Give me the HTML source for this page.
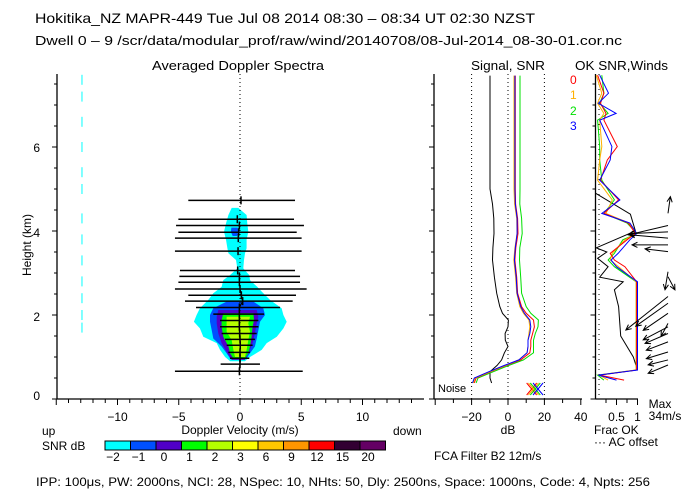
<!DOCTYPE html>
<html><head><meta charset="utf-8"><style>
html,body{margin:0;padding:0;background:#fff;}
svg{display:block;font-family:"Liberation Sans",sans-serif;}
text{fill:#000;}
</style></head><body>
<svg id="chart" width="700" height="500" viewBox="0 0 700 500" xmlns="http://www.w3.org/2000/svg">
<rect width="700" height="500" fill="#fff"/>
<text x="35" y="23" font-size="14" textLength="500" lengthAdjust="spacingAndGlyphs">Hokitika_NZ  MAPR-449  Tue Jul 08 2014 08:30 – 08:34 UT 02:30 NZST</text>
<text x="35" y="45" font-size="13" textLength="587" lengthAdjust="spacingAndGlyphs">Dwell  0 –  9   /scr/data/modular_prof/raw/wind/20140708/08-Jul-2014_08-30-01.cor.nc</text>
<text x="152" y="70" font-size="13" textLength="172" lengthAdjust="spacingAndGlyphs">Averaged Doppler Spectra</text>
<text x="471" y="70" font-size="13" textLength="74" lengthAdjust="spacingAndGlyphs">Signal, SNR</text>
<text x="575" y="70" font-size="13" textLength="93" lengthAdjust="spacingAndGlyphs">OK SNR,Winds</text>

<text x="40" y="400" font-size="12" text-anchor="end">0</text>
<text x="40" y="321" font-size="12" text-anchor="end">2</text>
<text x="40" y="237" font-size="12" text-anchor="end">4</text>
<text x="40" y="152" font-size="12" text-anchor="end">6</text>
<text transform="translate(31,245) rotate(-90)" font-size="12" text-anchor="middle">Height (km)</text>

<text x="240" y="434" font-size="12" text-anchor="middle">Doppler Velocity (m/s)</text>
<text x="42" y="435" font-size="12">up</text>
<text x="393" y="435" font-size="12">down</text>
<text x="508" y="434" font-size="12" text-anchor="middle">dB</text>
<text x="594" y="434" font-size="12">Frac OK</text>
<text x="594" y="446" font-size="12">··· AC offset</text>
<text x="660" y="408" font-size="12" text-anchor="middle">Max</text>
<text x="665" y="420" font-size="12" text-anchor="middle">34m/s</text>
<text x="438" y="392" font-size="11">Noise</text>
<text x="434" y="460" font-size="12">FCA Filter B2 12m/s</text>
<text x="42" y="450" font-size="12">SNR dB</text>
<text x="36" y="486" font-size="12" textLength="614" lengthAdjust="spacingAndGlyphs">IPP: 100μs,  PW: 2000ns,  NCI:  28,  NSpec: 10, NHts: 50,  Dly: 2500ns,  Space: 1000ns,  Code: 4,  Npts: 256</text>
<text x="570" y="84" font-size="12" style="fill:#ff0000">0</text>
<text x="570" y="99" font-size="12" style="fill:#ffb000">1</text>
<text x="570" y="115" font-size="12" style="fill:#00e000">2</text>
<text x="570" y="130" font-size="12" style="fill:#0000ff">3</text>
<g id="dyn"></g>
</svg>
<script>
// ---------- data ----------
const cyanH=[4.55,4.38,4.18,3.98,3.79,3.59,3.47,3.31,3.11,2.95,2.83,2.67,2.52,2.36,2.16,2.0,1.84,1.68,1.48,1.33,1.17,1.0,0.9];
const cyanLo=[-0.68,-0.95,-1.14,-1.31,-1.14,-1.03,-0.95,-0.33,-0.22,-0.82,-1.36,-1.5,-2.18,-2.59,-3.27,-3.54,-3.76,-3.27,-3.0,-1.9,-1.63,-1.22,-0.8];
const cyanHi=[-0.14,0.54,0.6,0.68,0.54,0.54,0.41,0.33,0.27,0.76,0.82,1.41,1.9,2.45,3.4,3.54,3.81,3.54,3.0,2.18,1.77,0.82,0.4];
const blueTopH=[4.08,3.98,3.88];
const blueTopLo=[-0.7,-0.75,-0.6];
const blueTopHi=[-0.2,-0.1,-0.25];
const blueH=[2.32,2.16,2.0,1.84,1.64,1.44,1.25,1.09,0.97];
const blueLo=[-1.09,-2.18,-2.45,-2.45,-2.31,-2.18,-1.5,-1.09,-0.82];
const blueHi=[1.09,1.9,2.04,1.63,1.5,1.36,1.22,0.82,0.54];
const purpH=[2.12,1.96,1.8,1.56,1.33,1.09,0.93];
const purpLo=[-1.77,-1.9,-1.9,-1.77,-1.5,-1.03,-0.68];
const purpHi=[1.36,1.5,1.36,1.22,1.03,0.68,0.41];
const greenH=[2.04,1.88,1.72,1.48,1.25,1.09,0.97];
const greenLo=[-1.36,-1.5,-1.5,-1.36,-0.95,-0.82,-0.54];
const greenHi=[1.09,1.14,1.03,0.95,0.82,0.68,0.41];
const ygH=[1.96,1.8,1.6,1.4,1.17,1.0];
const ygLo=[-1.09,-1.09,-1.09,-0.68,-0.54,-0.41];
const ygHi=[0.82,0.68,0.82,0.68,0.54,0.41];
const strayH=[7.6,7.2,6.6,6.0,5.4,5.0,4.3,3.8,3.3,2.8,2.4,2.0,1.7];
const strayV=[-12.9,-12.9,-12.9,-12.9,-12.9,-12.9,-12.9,-12.9,-12.9,-12.9,-12.9,-12.9,-12.9];
const widthH=[4.73,4.28,4.13,3.97,3.83,3.52,3.06,2.92,2.78,2.62,2.47,2.33,2.18,2.02,1.87,1.72,1.56,1.42,1.28,1.11,0.97,0.83,0.66];
const widthLo=[-4.22,-5.03,-5.22,-5.03,-5.31,-5.31,-4.9,-4.95,-5.03,-5.31,-4.22,-4.49,-3.59,-2.18,-1.63,-1.63,-1.5,-1.22,-1.09,-0.95,-0.82,-1.58,-5.31];
const widthHi=[4.49,4.41,5.22,4.63,5.03,5.03,4.49,4.9,4.9,5.44,4.57,4.3,3.27,1.96,1.5,1.5,1.36,1.22,1.03,0.82,0.76,1.63,5.12];
const meanV=[0.08,-0.22,-0.05,-0.11,-0.14,-0.16,-0.19,-0.05,-0.05,0.0,0.11,0.22,-0.05,-0.05,-0.05,-0.05,-0.03,0.0,0.02,0.0,0.0,0.0,-0.05];
const snrH=[0.38,0.5,0.65,0.8,0.93,1.1,1.25,1.4,1.56,1.72,1.88,2.04,2.2,2.52,2.9,3.31,3.6,3.94,4.3,4.64,5.0,6.0,7.0,7.7];
const snr0=[-18.5,-17.5,-9.5,-1,7,12,12.5,12.5,13.5,14.5,14,10,7.5,5.3,4.8,3.8,4.3,5.5,5.3,4.2,4.0,4.0,4.0,4.0];
const snr1=[-19,-18,-10,-1.5,6,10.5,11,11,11.5,12,11.5,8.5,6.5,4.8,4.2,3.2,3.8,5,4.8,3.6,3.3,3.3,3.3,3.3];
const snr2=[-17.5,-16.5,-8,0.5,8.5,14,14,14,15,16.5,16.7,12.5,10,7.5,7,6.3,6.5,7.8,7.5,6.5,6.6,6.6,6.6,6.6];
const snr3=[-19.5,-18.5,-10.5,-2,6,10.5,11,11,12,12.5,12,9,7,5,4.5,3.5,4,5,5,4,3.8,3.8,3.8,3.8];
const sigBlack=[-9,-9.9,-9.9,-6,-3.5,-2,0,-1.5,-1.6,0,0.2,-3,-4.5,-6.2,-7.5,-8.5,-8.3,-7.7,-7.8,-8.5,-9.9,-9.9,-9.9,-9.9];
const noiseDb=[13,14,15,16.5];
const okH=[7.71,7.28,7.04,6.8,6.64,6.01,5.69,5.21,4.74,4.42,4.19,3.94,3.79,3.47,3.31,3.15,2.79,0.69,0.57,0.45];
const ok0=[0.05,0.2,0.12,0.25,0.2,0.52,0.28,0.12,0.55,0.2,0.78,0.95,0.75,0.35,0.45,0.7,0.98,0.98,0.1,0.68];
const ok1=[0.02,0.15,0.05,0.2,0.1,0.15,0.1,0.05,0.4,0.25,0.8,0.97,0.7,0.4,0.35,0.55,0.97,0.97,0.08,0.3];
const ok2=[0.15,0.2,0.1,0.3,0.05,0.1,0.1,0.15,0.45,0.2,0.75,0.99,0.65,0.45,0.3,0.45,0.97,0.97,0.05,0.2];
const ok3=[0.1,0.31,0.07,0.49,0.1,0.39,0.35,0.1,0.58,0.15,0.82,0.98,0.82,0.54,0.37,0.5,1,1,0.07,0.5];
const okBlackH=[4.9,4.4,4.0,3.6,3.5,3.35,3.15,2.9,2.79,2.6,2.2,1.5,1.0,0.69];
const okBlack=[0,0.83,0.95,0.02,0.27,0.05,0.3,0.1,0.66,0.45,0.55,0.6,0.9,1.0];
const windH=[4.42,4.13,3.98,3.83,3.67,3.51,3.03,2.91,2.44,2.28,2.04,1.8,1.72,1.56,1.36,1.12,0.93,0.81];
const windU=[1.9,-32,-31,-31,-29,-18.5,-2.4,5.6,-34,-26,-20,-5.6,-20,-18.5,-17.5,-17.5,-16,-16];
const windV=[13.5,-7.5,-1.4,2.7,0,2.2,-14.5,-10.5,-27,-18.5,-13.7,-10.5,-10.5,-8,-6.7,-5.4,-4,-6.7];
const cbLabels=["-2","-1","0","1","2","3","6","9","12","15","20"];
const cbColors=["#00ffff","#0050ff","#5000c8","#00ff00","#b4ff00","#ffff00","#ffc800","#ff9600","#ff0000","#320032","#640064"];
const velTicks=[-10,-5,0,5,10];
const dbTicks=[-20,0,20,40];
const fracTicks=["0.5","1"];

// ---------- axes ----------
const Y=h=>399-h*42;
const XV=v=>240+v*12.25;
const XD=d=>508+d*1.82;
const XF=f=>595.5+f*42;
const XW=u=>668+u*1.24;
const YW=(h,v)=>Y(h)-v*1.24;
const NS='http://www.w3.org/2000/svg';
const dyn=document.getElementById('dyn');
function mk(tag,attrs,parent){const e=document.createElementNS(NS,tag);for(const k in attrs)e.setAttribute(k,attrs[k]);(parent||dyn).appendChild(e);return e;}

function blob(H,Lo,Hi,col,name){
  const pts=[];
  for(let i=0;i<H.length;i++)pts.push(XV(Lo[i]).toFixed(1)+','+Y(H[i]).toFixed(1));
  for(let i=H.length-1;i>=0;i--)pts.push(XV(Hi[i]).toFixed(1)+','+Y(H[i]).toFixed(1));
  const p=mk('polygon',{points:pts.join(' '),fill:col});
  
  
}
blob(cyanH,cyanLo,cyanHi,'#00ffff','snr-contour-cyan');
blob(blueTopH,blueTopLo,blueTopHi,'#0050ff','snr-contour-blue-upper');
blob(blueH,blueLo,blueHi,'#0050ff','snr-contour-blue');
blob(purpH,purpLo,purpHi,'#5000c8','snr-contour-purple');
blob(greenH,greenLo,greenHi,'#00ff00','snr-contour-green');
blob(ygH,ygLo,ygHi,'#b4ff00','snr-contour-yellowgreen');
strayH.forEach((h,i)=>{
  const l=mk('line',{x1:XV(strayV[i]),x2:XV(strayV[i]),y1:Y(h)-5,y2:Y(h)+5,stroke:'#00ffff','stroke-width':1});
  
  
});
const z=mk('line',{x1:240,x2:240,y1:74,y2:399,stroke:'#000','stroke-dasharray':'1,3'});


widthH.forEach((h,i)=>{
  const l=mk('line',{x1:XV(widthLo[i]),x2:XV(widthHi[i]),y1:Y(h),y2:Y(h),stroke:'#000','stroke-width':1.5});
  
  
  const t=mk('line',{x1:XV(meanV[i]),x2:XV(meanV[i]),y1:Y(h)-4,y2:Y(h)+4,stroke:'#000','stroke-width':1.5});
  
  
});
{
  const pts=[];widthH.forEach((h,i)=>{if(h<2.7)pts.push(XV(meanV[i])+','+Y(h));});
  const p=mk('polyline',{points:pts.join(' '),fill:'none',stroke:'#000','stroke-width':1.2});
  
  
}
function axis(x1,y1,x2,y2,name){const l=mk('line',{x1,y1,x2,y2,stroke:'#000','stroke-width':1.3});}
axis(57,74,57,399,'spectra-y-axis');axis(57,399,424,399,'spectra-x-axis');
axis(434,74,434,399,'signal-y-axis');axis(434,399,582,399,'signal-x-axis');
axis(595.5,74,595.5,399,'winds-y-axis');axis(595.5,399,638,399,'winds-x-axis');
for(let h=0;h<=7.5;h+=0.5){
  const len=(h%2===0)?5:3;
  [57,434,595.5].forEach(x=>{mk('line',{x1:x-len,x2:x,y1:Y(h),y2:Y(h),stroke:'#000'});});
}
for(let v=-15;v<=14;v++){mk('line',{x1:XV(v),x2:XV(v),y1:399,y2:v%5===0?405:403,stroke:'#000'});}
velTicks.forEach(v=>{const t=mk('text',{x:XV(v),y:421,'font-size':12,'text-anchor':'middle'});t.textContent=(v<0?'−':'')+Math.abs(v);});
for(let d=-40;d<=40;d+=10){mk('line',{x1:XD(d),x2:XD(d),y1:399,y2:d%20===0?405:403,stroke:'#000'});}
dbTicks.forEach(d=>{const t=mk('text',{x:XD(d),y:421,'font-size':12,'text-anchor':'middle'});t.textContent=(d<0?'−':'')+Math.abs(d);});
[-20,0,20].forEach(d=>{const l=mk('line',{x1:XD(d),x2:XD(d),y1:74,y2:399,stroke:'#000','stroke-dasharray':'1,3'});});
for(let f=0.25;f<=1.001;f+=0.25){mk('line',{x1:XF(f),x2:XF(f),y1:399,y2:(f===0.5||f===1)?405:403,stroke:'#000'});}
fracTicks.forEach(s=>{const t=mk('text',{x:XF(parseFloat(s)),y:421,'font-size':12,'text-anchor':'middle'});t.textContent=s;});
{const l=mk('line',{x1:599,x2:599,y1:74,y2:399,stroke:'#000','stroke-dasharray':'1,4'});}

function line(xs,hs,xf,col,name,w){
  const pts=hs.map((h,i)=>xf(xs[i]).toFixed(1)+','+Y(h).toFixed(1));
  const p=mk('polyline',{points:pts.join(' '),fill:'none',stroke:col,'stroke-width':w||1});
  
  
}
line(sigBlack,snrH,XD,'#000','signal-power-line');
line(snr2,snrH,XD,'#00e000','snr-line-2');
line(snr0,snrH,XD,'#ff0000','snr-line-0');
line(snr1,snrH,XD,'#ffb000','snr-line-1');
line(snr3,snrH,XD,'#0000ff','snr-line-3');
const ncol=['#ff0000','#ffb000','#00e000','#0000ff'];
noiseDb.forEach((d,i)=>{
  const x=XD(d),y=389;
  const g=mk('path',{d:`M${x-5},${y-6}L${x+5},${y+6}M${x-5},${y+6}L${x+5},${y-6}`,stroke:ncol[i],fill:'none'});
  
  
});

line(okBlack,okBlackH,XF,'#000','ok-black-line');
line(ok2,okH,XF,'#00e000','ok-line-2');
line(ok1,okH,XF,'#ffb000','ok-line-1');
line(ok0,okH,XF,'#ff0000','ok-line-0');
line(ok3,okH,XF,'#0000ff','ok-line-3');

windH.forEach((h,i)=>{
  const x0=668,y0=Y(h),x1=XW(windU[i]),y1=YW(h,windV[i]);
  const a=Math.atan2(y1-y0,x1-x0),L=6;
  const hx1=x1-L*Math.cos(a-0.45),hy1=y1-L*Math.sin(a-0.45);
  const hx2=x1-L*Math.cos(a+0.45),hy2=y1-L*Math.sin(a+0.45);
  const p=mk('path',{d:`M${x0},${y0}L${x1},${y1}M${hx1},${hy1}L${x1},${y1}L${hx2},${hy2}`,stroke:'#000',fill:'none','stroke-width':1});
  
  
});

cbColors.forEach((c,i)=>{
  const x=105+i*25.5;
  const r=mk('rect',{x:x,y:441,width:25.5,height:9,fill:c,stroke:'#000','stroke-width':1});
  
  
  const t=mk('text',{x:x+8,y:461,'font-size':12,'text-anchor':'middle'});
  t.textContent=cbLabels[i].replace('-','−');
  
  
});
</script>
</body></html>
